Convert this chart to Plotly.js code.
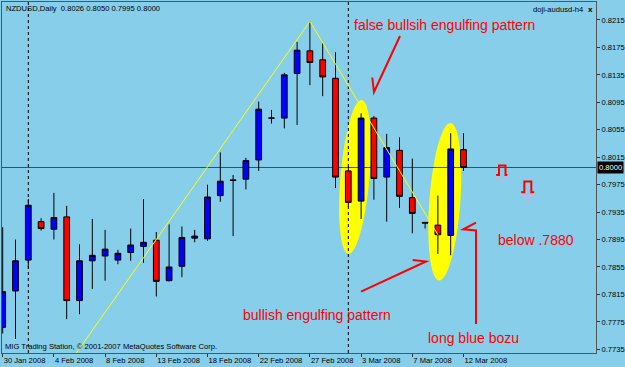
<!DOCTYPE html>
<html>
<head>
<meta charset="utf-8">
<script src="https://cdn.plot.ly/plotly-3.0.1.min.js"></script>
<style>html,body{margin:0;padding:0;background:#87CEEB;}#chart{width:625px;height:367px;}</style>
</head>
<body>
<div id="chart"></div>
<script>
// ---- data ----
const dates = ['30 Jan','31 Jan','1 Feb','3 Feb','4 Feb','5 Feb','6 Feb','7 Feb','8 Feb','10 Feb','11 Feb','12 Feb','13 Feb','14 Feb','15 Feb','17 Feb','18 Feb','19 Feb','20 Feb','21 Feb','22 Feb','24 Feb','25 Feb','26 Feb','27 Feb','28 Feb','29 Feb','2 Mar','3 Mar','4 Mar','5 Mar','6 Mar','7 Mar','9 Mar','10 Mar','11 Mar','12 Mar'];
const openP  = [0.7767,0.7820,0.7865,0.7921,0.7910,0.7928,0.7806,0.7864,0.7871,0.7865,0.7876,0.7885,0.7894,0.7835,0.7856,0.7897,0.7896,0.7959,0.7982,0.7983,0.8011,0.8072,0.8072,0.8137,0.8170,0.8157,0.8130,0.7995,0.7951,0.8072,0.7986,0.8025,0.7956,0.7920,0.7916,0.7901,0.8026];
const highP  = [0.7913,0.7895,0.7954,0.7926,0.7963,0.7944,0.7888,0.7925,0.7909,0.7880,0.7911,0.7954,0.7906,0.7917,0.7914,0.7909,0.7975,0.8022,0.7989,0.8014,0.8096,0.8084,0.8138,0.8183,0.8213,0.8181,0.8168,0.8001,0.8079,0.8075,0.8049,0.8044,0.8013,0.7920,0.7959,0.8050,0.8050];
const lowP   = [0.7758,0.7750,0.7853,0.7908,0.7895,0.7779,0.7786,0.7823,0.7835,0.7859,0.7864,0.7861,0.7812,0.7834,0.7840,0.7891,0.7893,0.7950,0.7900,0.7968,0.7995,0.8064,0.8057,0.8062,0.8120,0.8104,0.7970,0.7943,0.7925,0.7953,0.7921,0.7941,0.7904,0.7911,0.7874,0.7872,0.7995];
const closeP = [0.7819,0.7864,0.7945,0.7911,0.7927,0.7806,0.7864,0.7872,0.7881,0.7875,0.7887,0.7891,0.7834,0.7855,0.7898,0.7900,0.7957,0.7980,0.7981,0.8010,0.8085,0.8072,0.8135,0.8171,0.8153,0.8132,0.7986,0.7949,0.8072,0.7984,0.8029,0.7958,0.7933,0.7919,0.7902,0.8027,0.8000];
const tickIdx = [0,4,8,12,16,20,24,28,32,36];
const tickText = ['30 Jan 2008','4 Feb 2008','8 Feb 2008','13 Feb 2008','18 Feb 2008','22 Feb 2008','27 Feb 2008','3 Mar 2008','7 Mar 2008','12 Mar 2008'];
const yTicks = [0.8215,0.8175,0.8135,0.8095,0.8055,0.8015,0.7975,0.7935,0.7895,0.7855,0.7815,0.7775,0.7735];
const zigzagIdx = [0,24,34];
const zigzagPrice = [0.7577,0.8213,0.7902];
const separatorIdx = [2,27];
const bidPrice = 0.8000;

// ---- layout geometry (pixels) ----
const W=625,H=367,L=2,R=596,T=2,B=353;
const px = x => (x-L)/(R-L);
const py = y => (B-y)/(B-T);
const idx = dates.map((d,i)=>i);

function ellipsePath(cx,cy,topX,topY,botX,botY,semiMinor){
  const dx=topX-botX, dy=topY-botY, len=Math.hypot(dx,dy);
  const mx=dx/len, my=dy/len, nx=-my, ny=mx, a=len/2;
  let s='';
  for(let k=0;k<=60;k++){
    const t=k/60*2*Math.PI;
    const u=a*Math.cos(t), v=semiMinor*Math.sin(t);
    const X=cx+u*mx+v*nx, Y=cy+u*my+v*ny;
    s+=(k?'L':'M')+px(X).toFixed(5)+','+py(Y).toFixed(5);
  }
  return s+'Z';
}
function poly(points){
  return points.map((p,i)=>(i?'L':'M')+px(p[0]).toFixed(5)+','+py(p[1]).toFixed(5)).join('');
}

const shapes = [];
// yellow ellipses
shapes.push({type:'path',xref:'paper',yref:'paper',layer:'below',path:ellipsePath(355,177,361.5,100,348.3,254,14.5),fillcolor:'#FFFF00',line:{width:0}});
shapes.push({type:'path',xref:'paper',yref:'paper',layer:'below',path:ellipsePath(444.8,201.8,450.5,123,439,280.5,15.5),fillcolor:'#FFFF00',line:{width:0}});
// period separators
separatorIdx.forEach(s=>shapes.push({type:'line',xref:'x',yref:'paper',x0:s,x1:s,y0:0,y1:1,layer:'below',line:{color:'#000',width:1,dash:'dot'}}));
// bid line
shapes.push({type:'line',xref:'paper',yref:'y',x0:0,x1:1,y0:bidPrice,y1:bidPrice,layer:'below',line:{color:'#3c4c5c',width:1}});
// red hand-drawn arrows
const red={color:'#FF0000',width:2};
shapes.push({type:'path',xref:'paper',yref:'paper',path:poly([[400,36],[374,92],[372.3,77.5]]),line:red});
shapes.push({type:'path',xref:'paper',yref:'paper',path:poly([[361,291.7],[426,261.5],[412.7,260]]),line:red});
shapes.push({type:'path',xref:'paper',yref:'paper',path:poly([[476,324],[476,230.5],[463.3,229.3],[476,222.7]]),line:red});
// hollow down-arrow objects
shapes.push({type:'path',xref:'paper',yref:'paper',path:poly([[496,175],[499,175],[499,165.5],[505.5,165.5],[505.5,175],[507.5,175]]),line:red});
shapes.push({type:'path',xref:'paper',yref:'paper',path:poly([[496,175.5],[501.7,182.7],[507.5,175.5]]),line:{color:'#ff9ecf',width:1}});
shapes.push({type:'path',xref:'paper',yref:'paper',path:poly([[521,192.3],[524.3,192.3],[524.3,181.5],[531.3,181.5],[531.3,192.3],[534.3,192.3]]),line:red});
shapes.push({type:'path',xref:'paper',yref:'paper',path:poly([[521,192.8],[527.7,199.3],[534.3,192.8]]),line:{color:'#ff9ecf',width:1}});

const FONT='Liberation Sans, Arial, sans-serif';
function txt(text,x,y,size,color,extra){
  return Object.assign({text:text,xref:'paper',yref:'paper',x:px(x),y:py(y),xanchor:'left',yanchor:'middle',showarrow:false,font:{family:FONT,size:size,color:color}},extra||{});
}
const annotations = [
  txt('NZDUSD,Daily&nbsp;&nbsp;0.8026 0.8050 0.7995 0.8000',4,8.5,7.6,'#000'),
  txt('doji-audusd-h4',531,9.3,7.6,'#000'),
  txt('<b>x</b>',586,9,8,'#000'),
  txt('MIG Trading Station, © 2001-2007 MetaQuotes Software Corp.',3,346,7.6,'#000'),
  txt('false bullsih engulfing pattern',352,25,14,'#FF0000'),
  txt('bullish engulfing pattern',241,315,14,'#FF0000'),
  txt('long blue bozu',426,338,14,'#FF0000'),
  txt('below .7880',496,239.5,14,'#FF0000'),
  txt('0.8000',597,167.3,7.6,'#FFFFFF',{bgcolor:'#000000',borderpad:1,yref:'y',y:bidPrice})
];

const traces = [
  {type:'candlestick',x:idx,open:openP,high:highP,low:lowP,close:closeP,
   increasing:{fillcolor:'#0000FF',line:{color:'#000000',width:1}},
   decreasing:{fillcolor:'#FF0000',line:{color:'#000000',width:1}},
   whiskerwidth:0,hoverinfo:'skip',showlegend:false},
  {type:'scatter',mode:'lines',x:zigzagIdx,y:zigzagPrice,line:{color:'#FFFF00',width:1},hoverinfo:'skip',showlegend:false}
];

const xr0 = (L-L-0.7)/12.8, xr1 = (R-L-0.7)/12.8;
const layout = {
  width:W,height:H,
  margin:{l:L,r:W-R,t:T,b:H-B,pad:0},
  paper_bgcolor:'#87CEEB',plot_bgcolor:'#87CEEB',
  showlegend:false,boxgap:0.36,hovermode:false,
  font:{family:FONT,size:7.6,color:'#000'},
  xaxis:{range:[xr0,xr1],rangeslider:{visible:false},tickmode:'array',tickvals:tickIdx,ticktext:tickText,
    ticks:'outside',ticklen:3,tickcolor:'#333',ticklabelposition:'outside right',tickangle:0,ticklabelstandoff:0,
    showgrid:false,zeroline:false,showline:true,linecolor:'#555',mirror:true,automargin:false,
    tickfont:{family:FONT,size:7.6,color:'#000'},fixedrange:true},
  yaxis:{side:'right',range:[0.77296,0.82412],tickmode:'array',tickvals:yTicks,ticktext:yTicks.map(v=>v.toFixed(4)),
    ticks:'outside',ticklen:3,tickcolor:'#333',showgrid:false,zeroline:false,showline:true,linecolor:'#555',mirror:true,automargin:false,
    tickfont:{family:FONT,size:7.6,color:'#000'},fixedrange:true},
  shapes:shapes,annotations:annotations
};
Plotly.newPlot('chart',traces,layout,{displayModeBar:false,staticPlot:true});
</script>
</body>
</html>
